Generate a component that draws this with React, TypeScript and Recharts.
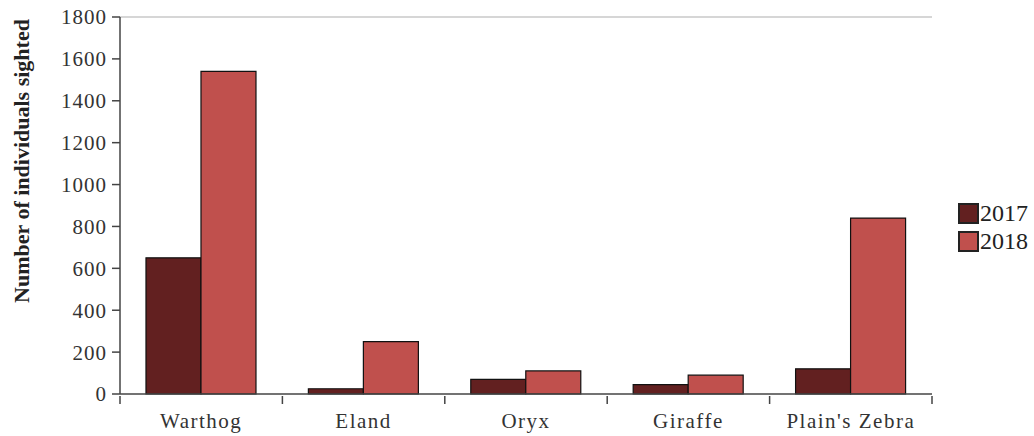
import React from "react";
import {
  BarChart,
  Bar,
  XAxis,
  YAxis,
  ReferenceLine,
} from "recharts";

const species = ["Warthog", "Eland", "Oryx", "Giraffe", "Plain's Zebra"];
const sightings2017 = [650, 25, 70, 45, 120];
const sightings2018 = [1540, 250, 110, 90, 840];
const yTicks = [0, 200, 400, 600, 800, 1000, 1200, 1400, 1600, 1800];

const data = species.map((name, i) => ({
  name,
  y2017: sightings2017[i],
  y2018: sightings2018[i],
}));

const FONT = "Liberation Serif";
const DARK = "#622020";
const LIGHT = "#c0504d";

const LegendBox = () => (
  <div
    style={{
      position: "absolute",
      left: 958,
      top: 199,
      fontFamily: FONT,
      fontSize: 24,
      color: "#222",
    }}
  >
    {[
      { label: "2017", color: DARK },
      { label: "2018", color: LIGHT },
    ].map((item) => (
      <div
        key={item.label}
        style={{ display: "flex", alignItems: "center", height: 28 }}
      >
        <span
          style={{
            display: "inline-block",
            width: 17,
            height: 17,
            background: item.color,
            border: "2px solid #222",
            marginRight: 1,
          }}
        />
        <span>{item.label}</span>
      </div>
    ))}
  </div>
);

const YLabel = () => (
  <text
    x={29}
    y={161}
    transform="rotate(-90, 29, 161)"
    textAnchor="middle"
    fontFamily={FONT}
    fontSize={22}
    fontWeight="bold"
    fill="#222"
  >
    Number of individuals sighted
  </text>
);

// category label plus tick marks on the band edges (Excel style)
const CategoryTick = (props: any) => {
  const { x, y, payload, index } = props;
  const half = payload?.offset ?? 0;
  const axisY = y - 8;
  return (
    <g>
      <line x1={x - half} x2={x - half} y1={axisY} y2={axisY + 8} stroke="#444" strokeWidth={1.5} />
      {index === species.length - 1 && (
        <line x1={x + half} x2={x + half} y1={axisY} y2={axisY + 8} stroke="#444" strokeWidth={1.5} />
      )}
      <text
        x={x}
        y={y + 24}
        textAnchor="middle"
        fontFamily={FONT}
        fontSize={21}
        letterSpacing={1.5}
        fill="#333"
      >
        {payload.value}
      </text>
    </g>
  );
};

export default function App() {
  return (
    <div style={{ position: "absolute", left: 0, top: 0, width: 1034, height: 436, background: "#fff" }}>
      <BarChart
        width={1034}
        height={436}
        data={data}
        margin={{ top: 17, right: 102, left: 0, bottom: 0 }}
        barGap={0}
        barCategoryGap="16%"
      >
        <XAxis
          dataKey="name"
          height={42}
          tickLine={false}
          tickSize={8}
          interval={0}
          axisLine={{ stroke: "#444", strokeWidth: 1.5 }}
          tick={<CategoryTick />}
        />
        <YAxis
          width={120}
          domain={[0, 1800]}
          ticks={yTicks}
          interval={0}
          tickSize={8}
          axisLine={{ stroke: "#444", strokeWidth: 1.5 }}
          tickLine={{ stroke: "#444", strokeWidth: 1.5 }}
          tick={{ fill: "#333", fontSize: 21, fontFamily: FONT, letterSpacing: 1 }}
          dx={-3}
          label={<YLabel />}
        />
        <ReferenceLine y={1800} stroke="#c8c8c8" strokeWidth={1.5} />
        <ReferenceLine x="Plain's Zebra" stroke="transparent" />
        <Bar
          dataKey="y2017"
          fill={DARK}
          stroke="#111"
          strokeWidth={1.2}
          isAnimationActive={false}
        />
        <Bar
          dataKey="y2018"
          fill={LIGHT}
          stroke="#111"
          strokeWidth={1.2}
          isAnimationActive={false}
        />
        <YAxis
          yAxisId="right"
          orientation="right"
          width={0}
          tick={false}
          tickLine={false}
          axisLine={{ stroke: "#c8c8c8", strokeWidth: 1.5 }}
        />
      </BarChart>
      <LegendBox />
    </div>
  );
}
